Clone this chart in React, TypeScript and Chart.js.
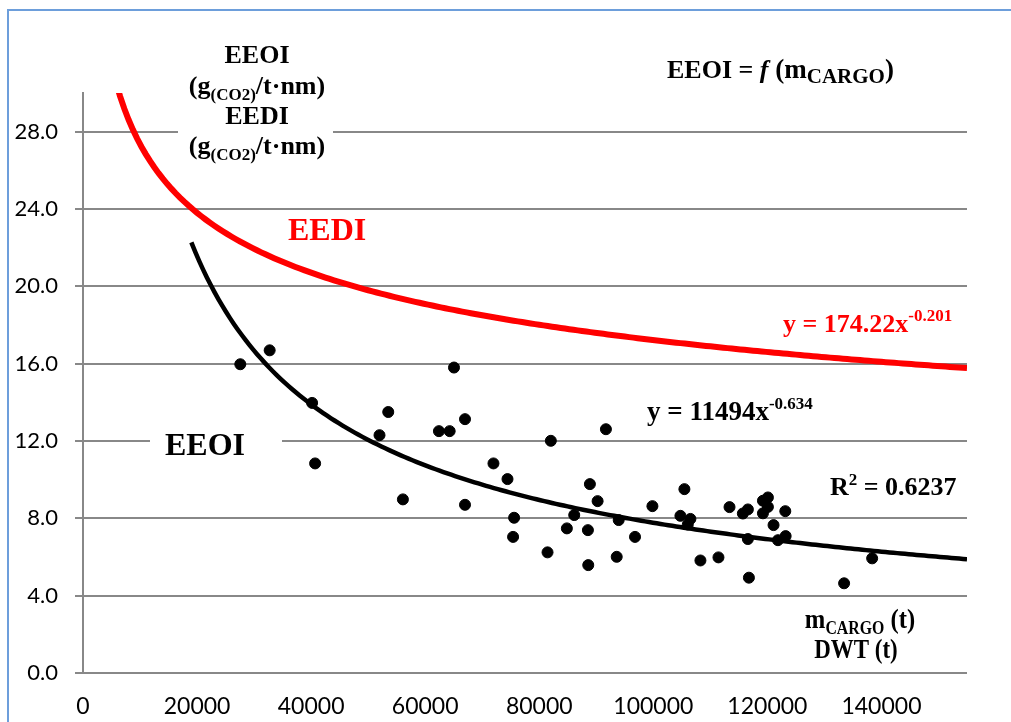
import React, { useEffect, useRef } from "react";
import { Chart, registerables } from "chart.js";

Chart.register(...registerables);

// Observed data points (m_CARGO in t, EEOI in g/t·nm)
const CARGO_T = [
  27580, 32730, 40170, 40700, 51990, 53520, 56090, 62410, 64290, 65050,
  66980, 66980, 71970, 74430, 75590, 75410, 81450, 82030, 84840, 86130,
  88880, 90230, 88530, 88590, 91690, 93930, 93580, 96790, 99840, 105450,
  104750, 106500, 106040, 108260, 111420, 113360, 115700, 116580, 116580, 116760,
  119220, 120090, 120090, 119220, 121080, 121850, 123140, 123200, 133450, 138370,
];
const EEOI_VALUES = [
  15.97, 16.69, 13.97, 10.84, 12.3, 13.5, 8.98, 12.51, 12.51, 15.8,
  13.13, 8.7, 10.84, 10.03, 8.03, 7.04, 6.24, 12.01, 7.48, 8.17,
  9.77, 8.89, 7.39, 5.58, 12.61, 7.91, 6.01, 7.04, 8.63, 9.51,
  8.13, 7.97, 7.68, 5.82, 5.98, 8.58, 8.25, 8.46, 6.93, 4.93,
  8.91, 9.08, 8.59, 8.26, 7.65, 6.87, 8.37, 7.08, 4.64, 5.93,
];

// Trend-line equations printed on the chart
const EEDI_COEF = 174.22;
const EEDI_EXP = -0.201;
const EEOI_COEF = 11494;
const EEOI_EXP = -0.634;
const EEDI_X_RANGE = [5000, 155000];
const EEOI_X_RANGE = [19000, 155000];

const X_TICKS = [0, 20000, 40000, 60000, 80000, 100000, 120000, 140000];
const Y_TICKS = [0, 4, 8, 12, 16, 20, 24, 28];
const X_MAX = 155000;
const Y_MAX = 30;

function trend(coef: number, exp: number, range: number[]) {
  const pts: { x: number; y: number }[] = [];
  const n = 200;
  for (let i = 0; i <= n; i++) {
    const x = range[0] + ((range[1] - range[0]) * i) / n;
    pts.push({ x, y: coef * Math.pow(x, exp) });
  }
  return pts;
}

const SERIF = '"Liberation Serif", "Times New Roman", serif';

type Seg = { t: string; size: number; dy?: number; italic?: boolean };

function drawRich(
  ctx: CanvasRenderingContext2D,
  segs: Seg[],
  x: number,
  y: number,
  align: "left" | "center",
  color: string,
  scaleX = 1
) {
  ctx.save();
  ctx.fillStyle = color;
  ctx.textBaseline = "alphabetic";
  ctx.textAlign = "left";
  let total = 0;
  const widths = segs.map((s) => {
    ctx.font = `${s.italic ? "italic " : ""}bold ${s.size}px ${SERIF}`;
    const w = ctx.measureText(s.t).width;
    total += w;
    return w;
  });
  ctx.translate(x, y);
  ctx.scale(scaleX, 1);
  let cx = align === "center" ? -total / 2 : 0;
  segs.forEach((s, i) => {
    ctx.font = `${s.italic ? "italic " : ""}bold ${s.size}px ${SERIF}`;
    ctx.fillText(s.t, cx, s.dy || 0);
    cx += widths[i];
  });
  ctx.restore();
}

const labelsPlugin = {
  id: "labels",
  beforeDatasetsDraw(chart: any) {
    const ctx: CanvasRenderingContext2D = chart.ctx;
    ctx.save();
    ctx.fillStyle = "#ffffff";
    ctx.fillRect(178, 36, 155, 126);
    ctx.fillRect(150, 425, 132, 37);
    ctx.restore();
  },
  afterDraw(chart: any) {
    const ctx: CanvasRenderingContext2D = chart.ctx;
    const unit: Seg[] = [
      { t: "(g", size: 26 },
      { t: "(CO2)", size: 17, dy: 6 },
      { t: "/t·nm)", size: 26 },
    ];
    drawRich(ctx, [{ t: "EEOI", size: 26 }], 257, 63, "center", "#000");
    drawRich(ctx, unit, 257, 94, "center", "#000");
    drawRich(ctx, [{ t: "EEDI", size: 26 }], 257, 124, "center", "#000");
    drawRich(ctx, unit, 257, 154, "center", "#000");

    drawRich(
      ctx,
      [
        { t: "EEOI = ", size: 26 },
        { t: "f", size: 26, italic: true },
        { t: " (m", size: 27 },
        { t: "CARGO", size: 21, dy: 5 },
        { t: ")", size: 27 },
      ],
      667,
      78,
      "left",
      "#000"
    );

    drawRich(ctx, [{ t: "EEDI", size: 32 }], 288, 240, "left", "#ff0000");
    drawRich(ctx, [{ t: "EEOI", size: 32 }], 165, 455, "left", "#000");

    drawRich(
      ctx,
      [
        { t: "y = 174.22x", size: 26 },
        { t: "-0.201", size: 17, dy: -11 },
      ],
      783,
      332,
      "left",
      "#ff0000"
    );
    drawRich(
      ctx,
      [
        { t: "y = 11494x", size: 27 },
        { t: "-0.634", size: 17, dy: -11 },
      ],
      647,
      420,
      "left",
      "#000"
    );
    drawRich(
      ctx,
      [
        { t: "R", size: 26 },
        { t: "2", size: 17, dy: -10 },
        { t: " = 0.6237", size: 26 },
      ],
      830,
      495,
      "left",
      "#000"
    );
    drawRich(
      ctx,
      [
        { t: "m", size: 28 },
        { t: "CARGO", size: 18, dy: 6 },
        { t: " (t)", size: 28 },
      ],
      860,
      628,
      "center",
      "#000",
      0.88
    );
    drawRich(ctx, [{ t: "DWT (t)", size: 28 }], 856, 658, "center", "#000", 0.82);
  },
};

export default function App() {
  const ref = useRef<HTMLCanvasElement | null>(null);

  useEffect(() => {
    if (!ref.current) return;
    const points = CARGO_T.map((x, i) => ({ x, y: EEOI_VALUES[i] }));
    const chart = new Chart(ref.current, {
      type: "scatter",
      data: {
        datasets: [
          {
            label: "EEDI trend",
            data: trend(EEDI_COEF, EEDI_EXP, EEDI_X_RANGE),
            showLine: true,
            borderColor: "#ff0000",
            borderWidth: 6,
            pointRadius: 0,
            fill: false,
          },
          {
            label: "EEOI trend",
            data: trend(EEOI_COEF, EEOI_EXP, EEOI_X_RANGE),
            showLine: true,
            borderColor: "#000000",
            borderWidth: 4.5,
            pointRadius: 0,
            fill: false,
          },
          {
            label: "EEOI",
            data: points,
            backgroundColor: "#000000",
            borderColor: "#000000",
            pointRadius: 5.5,
            showLine: false,
          },
        ],
      },
      options: {
        responsive: false,
        animation: false,
        devicePixelRatio: 1,
        layout: { padding: { left: 0, top: 93, right: 44, bottom: 0 } },
        plugins: {
          legend: { display: false },
          tooltip: { enabled: false },
        },
        scales: {
          x: {
            type: "linear",
            min: 0,
            max: X_MAX,
            afterBuildTicks: (axis: any) => {
              axis.ticks = X_TICKS.map((v) => ({ value: v }));
            },
            afterFit: (axis: any) => {
              axis.height = 49;
            },
            grid: { display: false, drawTicks: false },
            border: { display: false },
            ticks: {
              padding: 20,
              maxRotation: 0,
              autoSkip: false,
              color: "#000",
              font: { family: "Lato, 'Liberation Sans', sans-serif", size: 23 },
              callback: (v: any) => String(v),
            },
          },
          y: {
            type: "linear",
            min: 0,
            max: Y_MAX,
            afterBuildTicks: (axis: any) => {
              axis.ticks = Y_TICKS.map((v) => ({ value: v }));
            },
            afterFit: (axis: any) => {
              axis.width = 83;
            },
            grid: { color: "#888888", lineWidth: 2, tickLength: 8 },
            border: { color: "#888888", width: 2 },
            ticks: {
              padding: 17,
              color: "#000",
              font: { family: "Lato, 'Liberation Sans', sans-serif", size: 22 },
              callback: (v: any) => Number(v).toFixed(1),
            },
          },
        },
      },
      plugins: [labelsPlugin],
    });
    return () => chart.destroy();
  }, []);

  return (
    <div
      style={{
        position: "absolute",
        left: 0,
        top: 0,
        width: 1011,
        height: 722,
        overflow: "hidden",
        background: "#fff",
      }}
    >
      <canvas
        ref={ref}
        width={1011}
        height={722}
        style={{ position: "absolute", left: 0, top: 0, width: 1011, height: 722 }}
      />
      <div
        style={{
          position: "absolute",
          left: 7,
          top: 9,
          width: 1100,
          height: 800,
          borderLeft: "2px solid #6d9edb",
          borderTop: "2px solid #6d9edb",
          pointerEvents: "none",
        }}
      />
    </div>
  );
}
